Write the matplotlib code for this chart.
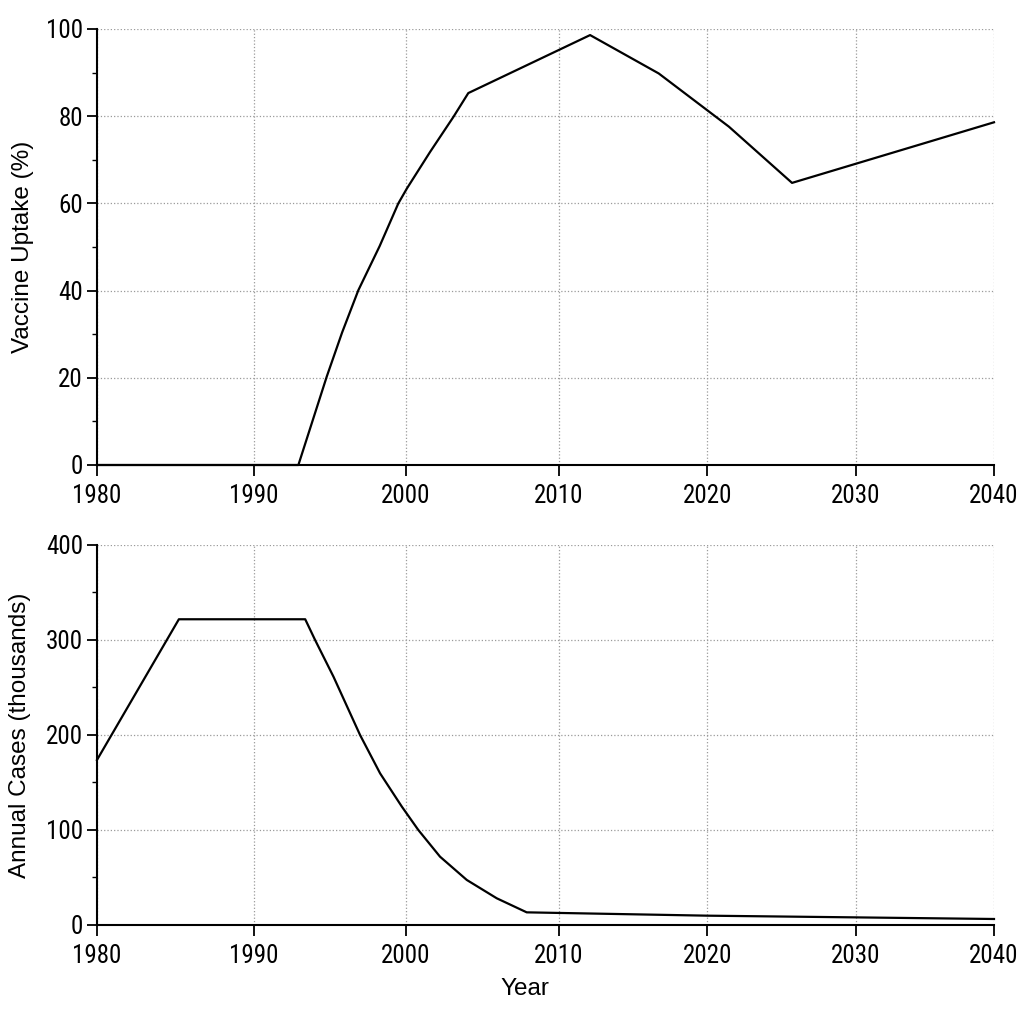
import matplotlib
matplotlib.use('Agg')
import matplotlib.pyplot as plt
import matplotlib.font_manager as fm
from matplotlib.ticker import MultipleLocator
import numpy as np

# --- data ---
uptake_years = [1980, 1992.91, 1994.78, 1995.79, 1996.86, 1998.26, 1999.49, 2000.05,
                2001.57, 2003.09, 2004.07, 2012.10, 2016.73, 2021.46, 2025.71, 2040]
uptake_pct = [0, 0, 20.3, 30.4, 40.1, 50.2, 60.0, 63.4,
              71.8, 79.8, 85.3, 98.6, 89.8, 77.6, 64.7, 78.6]

cases_years = [1980, 1985.21, 1993.36, 1994.01, 1995.22, 1996.97, 1998.29,
               1999.72, 2000.80, 2002.22, 2003.97, 2005.93, 2007.89,
               2020, 2030, 2040]
cases_k = [173.7, 321.8, 321.8, 300, 261.4, 200, 159.6,
           124.6, 100, 71.9, 47.4, 28.1, 13.3,
           9.8, 8.0, 6.3]

x_ticks = [1980, 1990, 2000, 2010, 2020, 2030, 2040]
# the reference's decades are not evenly spaced; relative spacing of each tick
x_tick_pos = [0.0, 157.3, 309.3, 462.3, 610.6, 759.3, 897.6]


def _ext(a):
    # extend the piecewise map linearly beyond both ends
    a = list(a)
    return [a[0] - (a[1] - a[0]) * 10] + a + [a[-1] + (a[-1] - a[-2]) * 10]


_yrs = _ext(x_ticks)
_pos = _ext(x_tick_pos)


def fwd(x):
    return np.interp(x, _yrs, _pos)


def inv(p):
    return np.interp(p, _pos, _yrs)


# tick labels in the reference are a narrow sans; use one if it is installed
installed = {(f.name, f.stretch) for f in fm.fontManager.ttflist}
narrow = None
for name in ['Liberation Sans Narrow', 'Roboto Condensed', 'Open Sans Condensed',
             'Noto Sans Condensed', 'DejaVu Sans Condensed']:
    if any(n == name for n, _ in installed):
        narrow = name
        break
if narrow is None:
    for n, s in installed:
        if s in ('condensed', 'semi-condensed') and 'Sans' in n:
            narrow = n
            break

if narrow:
    tick_font = dict(family=[narrow, 'DejaVu Sans'], size=18,
                     stretch='condensed')
else:
    tick_font = dict(family=['Liberation Sans', 'DejaVu Sans'], size=17)
label_font = dict(family=['Liberation Sans', 'DejaVu Sans'], size=17.5)

fig = plt.figure(figsize=(10.24, 10.24), dpi=100, facecolor='white')
ax1 = fig.add_axes([0.0947, 0.5459, 0.876, 0.4258])
ax2 = fig.add_axes([0.0947, 0.0967, 0.876, 0.3711])


def style_axis(ax, ymax, ystep):
    ax.set_xscale('function', functions=(fwd, inv))
    ax.set_xlim(1980, 2040)
    ax.set_ylim(0, ymax)
    ax.set_xticks(x_ticks)
    ax.set_xticklabels([str(t) for t in x_ticks])
    ax.xaxis.set_minor_locator(plt.NullLocator())
    ax.yaxis.set_major_locator(MultipleLocator(ystep))
    ax.yaxis.set_minor_locator(MultipleLocator(ystep / 2))
    for side in ['top', 'right']:
        ax.spines[side].set_visible(False)
    for side in ['left', 'bottom']:
        ax.spines[side].set_linewidth(1.5)
    ax.grid(True, which='major', linestyle=':', linewidth=0.9, color='#9a9a9a')
    ax.set_axisbelow(True)
    ax.tick_params(axis='x', which='major', length=8, width=1.3, direction='out', pad=6)
    ax.tick_params(axis='y', which='major', length=7, width=1.3, direction='out', pad=3)
    ax.tick_params(which='minor', length=3.5, width=1.0, direction='out')
    for lab in ax.get_xticklabels() + ax.get_yticklabels():
        lab.set(**tick_font)


ax1.plot(uptake_years, uptake_pct, color='black', linewidth=1.6, clip_on=False)
style_axis(ax1, 100, 20)
ax1.set_ylabel('Vaccine Uptake (%)', **label_font)
ax1.yaxis.set_label_coords(-0.070, 0.5)

ax2.plot(cases_years, cases_k, color='black', linewidth=1.6, clip_on=False)
style_axis(ax2, 400, 100)
ax2.set_ylabel('Annual Cases (thousands)', **label_font)
ax2.yaxis.set_label_coords(-0.0736, 0.5)
ax2.set_xlabel('Year', **label_font)
ax2.xaxis.set_label_coords(0.477, -0.14)

plt.savefig('out.png', dpi=100, facecolor='white')
